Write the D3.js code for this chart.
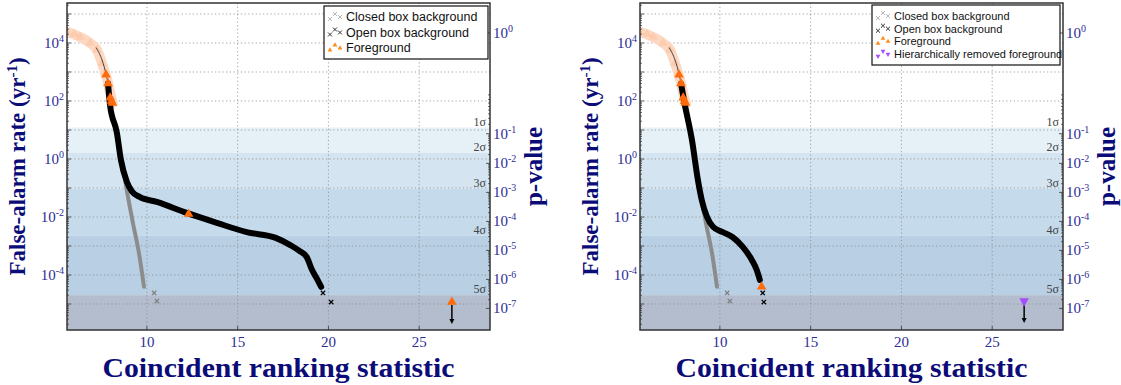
<!DOCTYPE html>
<html>
<head>
<meta charset="utf-8">
<script src="https://cdn.jsdelivr.net/npm/d3@7"></script>
<style>
  body { margin: 0; background: #fff; }
</style>
</head>
<body>
<svg id="chart" width="1121" height="385"></svg>
<script>
// ---- data (x = ranking statistic, y = FAR in 1/yr) ----
const fadedForeground = [[5.6, 24000], [6.0, 20000], [6.32, 16000], [6.87, 10000], [7.25, 5800],
  [7.53, 2000], [7.7, 930], [7.86, 420], [8.02, 140], [8.13, 85]];
const openBgThin = [[7.2, 7000], [7.45, 3500], [7.65, 1500], [7.86, 420]];

const openBgLeft = [[7.86, 400], [7.97, 72], [8.35, 7.9], [8.57, 0.93], [8.9, 0.16], [9.18, 0.076],
  [9.6, 0.049], [10.55, 0.033], [12.2, 0.0138], [13.85, 0.0063], [15.5, 0.003], [17.1, 0.0019],
  [17.9, 0.00107], [18.4, 0.00068], [18.8, 0.00042], [19.1, 0.000148], [19.4, 6.8e-5], [19.6, 3.9e-5]];
const openIsoLeft = [[19.7, 2.4e-5], [20.15, 1.17e-5]];
const foregroundLeft = [[7.75, 800], [7.86, 400], [7.98, 130], [8.05, 100], [8.1, 85], [12.3, 0.0126]];
const limitLeft = [26.8, 1.17e-5];

const openBgRight = [[7.86, 400], [8.02, 107], [8.46, 4.6], [8.79, 0.19], [9.0, 0.039], [9.29, 0.01],
  [9.62, 0.0046], [10.16, 0.003], [10.71, 0.002], [11.26, 0.00093], [11.76, 0.00033],
  [12.03, 0.000148], [12.2, 6.8e-5]];
const openIsoRight = [[12.36, 2.4e-5], [12.42, 1.17e-5]];
const foregroundRight = [[7.75, 800], [7.86, 400], [7.98, 130], [8.05, 100], [8.1, 85], [12.3, 3.9e-5]];
const removedRight = [26.76, 1.26e-5];

const closedBg = [[8.7, 0.5], [8.8, 0.19], [9.23, 0.0063], [9.6, 0.00042], [9.84, 3.9e-5]];
const closedIso = [[10.4, 2.4e-5], [10.55, 1.26e-5]];

const xTicks = [10, 15, 20, 25];
const yDecades = [-5, -4, -3, -2, -1, 0, 1, 2, 3, 4, 5];
const pDecades = [-1, -2, -3, -4, -5, -6, -7];
const sigmaP = [0.1587, 0.02275, 0.00135, 3.167e-5, 2.867e-7];
const sigmaNames = ["1σ", "2σ", "3σ", "4σ", "5σ"];
const liveTime = 0.0142;     // yr, turns FAR into p-value
const pOneFar = 22100;       // where the p = 1 tick sits on the FAR axis

const legendLeft = ["Closed box background", "Open box background", "Foreground"];
const legendRight = ["Closed box background", "Open box background", "Foreground",
  "Hierarchically removed foreground"];

// ---- styles ----
const bandColors = ["#e6f0f7", "#d4e5f1", "#c5dbec", "#b9cfe4", "#b4bdcd"];
const tickColor = "#2d2d96";
const titleColor = "#0c0c78";
const orange = "#ff6a0a";
const purple = "#a64dff";
const serif = "'Liberation Serif', 'DejaVu Serif', serif";
const sans = "'Liberation Sans', Arial, sans-serif";

const svg = d3.select("#chart");
const plotTop = 3, plotBottom = 330, plotW = 423;
const xDomain = [5.6, 28.9];
const yDomain = [Math.pow(10, -5.897), Math.pow(10, 5.379)];
const farFromP = p => p >= 1 ? pOneFar : -Math.log(1 - p) / liveTime;

const symX = d3.symbolTimes || d3.symbolX || d3.symbolCross;

function supText(sel, base, exp, size) {
  sel.text(null);
  sel.append("tspan").text(base);
  sel.append("tspan").attr("dy", -6).attr("font-size", size).text(exp);
}

function drawPanel(cfg) {
  const x = d3.scaleLinear().domain(xDomain).range([cfg.left, cfg.left + plotW]);
  const y = d3.scaleLog().domain(yDomain).range([plotBottom, plotTop]);
  const right = cfg.left + plotW;
  const g = svg.append("g");

  const clipId = "clip" + cfg.left;
  svg.append("clipPath").attr("id", clipId).append("rect")
    .attr("x", cfg.left).attr("y", plotTop).attr("width", plotW).attr("height", plotBottom - plotTop);
  const plot = g.append("g").attr("clip-path", `url(#${clipId})`);

  // sigma bands
  sigmaP.forEach((p, i) => {
    const y0 = y(farFromP(p));
    const y1 = i + 1 < sigmaP.length ? y(farFromP(sigmaP[i + 1])) : plotBottom;
    plot.append("rect").attr("x", cfg.left).attr("width", plotW)
      .attr("y", y0).attr("height", y1 - y0).attr("fill", bandColors[i]);
  });

  // grid
  plot.selectAll(".gx").data(xTicks).join("line")
    .attr("x1", d => x(d)).attr("x2", d => x(d)).attr("y1", plotTop).attr("y2", plotBottom)
    .attr("stroke", "#8a8a8a").attr("stroke-width", 0.8).attr("stroke-dasharray", "1.2,2.5");
  plot.selectAll(".gy").data(yDecades).join("line")
    .attr("x1", cfg.left).attr("x2", right)
    .attr("y1", d => y(Math.pow(10, d))).attr("y2", d => y(Math.pow(10, d)))
    .attr("stroke", "#8a8a8a").attr("stroke-width", 0.8).attr("stroke-dasharray", "1.2,2.5");

  const line = d3.line().x(d => x(d[0])).y(d => y(d[1])).curve(d3.curveMonotoneX);

  // closed box background
  plot.append("path").datum(closedBg).attr("d", line).attr("fill", "none")
    .attr("stroke", "#8c8c8c").attr("stroke-width", 4).attr("stroke-linecap", "round");
  plot.selectAll(".ci").data(closedIso).join("path")
    .attr("transform", d => `translate(${x(d[0])},${y(d[1])})`)
    .attr("d", d3.symbol().type(symX).size(14)).attr("stroke", "#808080").attr("stroke-width", 1.3)
    .attr("fill", "none");

  // faded foreground
  plot.append("path").datum(fadedForeground).attr("d", line).attr("fill", "none")
    .attr("stroke", "#fdd8c2").attr("stroke-width", 10).attr("stroke-linecap", "round");
  plot.selectAll(".ff").data(fadedForeground).join("path")
    .attr("transform", d => `translate(${x(d[0])},${y(d[1])})`)
    .attr("d", d3.symbol().type(d3.symbolTriangle).size(40)).attr("fill", "#fcc4a2").attr("opacity", 0.6);
  plot.append("path").datum(openBgThin).attr("d", line).attr("fill", "none")
    .attr("stroke", "#444").attr("stroke-width", 1);

  // open box background
  plot.append("path").datum(cfg.open).attr("d", line).attr("fill", "none")
    .attr("stroke", "#000").attr("stroke-width", 6).attr("stroke-linecap", "round");
  plot.selectAll(".oi").data(cfg.openIso).join("path")
    .attr("transform", d => `translate(${x(d[0])},${y(d[1])})`)
    .attr("d", d3.symbol().type(symX).size(14)).attr("stroke", "#000").attr("stroke-width", 1.3)
    .attr("fill", "none");

  // foreground
  plot.selectAll(".fg").data(cfg.fg).join("path")
    .attr("transform", d => `translate(${x(d[0])},${y(d[1])})`)
    .attr("d", d3.symbol().type(d3.symbolTriangle).size(40)).attr("fill", orange);

  // upper limit marker with arrow
  const lx = x(cfg.limit[0]), ly = y(cfg.limit[1]);
  plot.append("line").attr("x1", lx).attr("x2", lx).attr("y1", ly + 3).attr("y2", ly + 19)
    .attr("stroke", "#000").attr("stroke-width", 1.5);
  plot.append("path").attr("d", `M${lx - 2.5},${ly + 17}L${lx + 2.5},${ly + 17}L${lx},${ly + 22}Z`)
    .attr("fill", "#000");
  plot.append("path").attr("transform", `translate(${lx},${ly})${cfg.limitDown ? " rotate(180)" : ""}`)
    .attr("d", d3.symbol().type(d3.symbolTriangle).size(40))
    .attr("fill", cfg.limitDown ? purple : orange);

  // sigma labels
  sigmaP.forEach((p, i) => {
    g.append("text").attr("x", right - 4).attr("y", y(farFromP(p)) - 2)
      .attr("text-anchor", "end").attr("font-family", serif).attr("font-size", 12)
      .attr("fill", "#444").text(sigmaNames[i]);
  });

  // left axis ticks
  const minor = [];
  d3.range(-6, 6).forEach(n => d3.range(2, 10).forEach(k => {
    const v = k * Math.pow(10, n);
    if (v > yDomain[0] && v < yDomain[1]) minor.push(v);
  }));
  g.selectAll(".ymin").data(minor).join("line")
    .attr("x1", cfg.left).attr("x2", cfg.left + 2).attr("y1", d => y(d)).attr("y2", d => y(d))
    .attr("stroke", "#333").attr("stroke-width", 0.7);
  g.selectAll(".ymaj").data(yDecades).join("line")
    .attr("x1", cfg.left).attr("x2", cfg.left + 4)
    .attr("y1", d => y(Math.pow(10, d))).attr("y2", d => y(Math.pow(10, d)))
    .attr("stroke", "#333").attr("stroke-width", 0.8);
  g.selectAll(".ylab").data(yDecades.filter(d => d % 2 === 0)).join("text")
    .attr("x", cfg.left - 3).attr("y", d => y(Math.pow(10, d)) + 5)
    .attr("text-anchor", "end").attr("font-family", serif).attr("font-size", 15).attr("fill", tickColor)
    .each(function (d) { supText(d3.select(this), "10", String(d), 10); });

  // right axis (p-value)
  const pMinor = [];
  d3.range(1, 8).forEach(n => d3.range(2, 10).forEach(k => pMinor.push(k * Math.pow(10, -n))));
  g.selectAll(".pmin").data(pMinor).join("line")
    .attr("x1", right - 2).attr("x2", right).attr("y1", d => y(farFromP(d))).attr("y2", d => y(farFromP(d)))
    .attr("stroke", "#333").attr("stroke-width", 0.7);
  const pMajor = [0].concat(pDecades);
  g.selectAll(".pmaj").data(pMajor).join("line")
    .attr("x1", right - 4).attr("x2", right)
    .attr("y1", d => y(farFromP(Math.pow(10, d)))).attr("y2", d => y(farFromP(Math.pow(10, d))))
    .attr("stroke", "#333").attr("stroke-width", 0.8);
  g.selectAll(".plab").data(pMajor).join("text")
    .attr("x", right + 3).attr("y", d => y(farFromP(Math.pow(10, d))) + 5)
    .attr("font-family", serif).attr("font-size", 15).attr("fill", tickColor)
    .each(function (d) { supText(d3.select(this), "10", String(d), 10); });

  // x axis ticks
  g.selectAll(".xt").data(xTicks).join("line")
    .attr("x1", d => x(d)).attr("x2", d => x(d)).attr("y1", plotBottom - 4).attr("y2", plotBottom)
    .attr("stroke", "#333").attr("stroke-width", 0.8);
  g.selectAll(".xl").data(xTicks).join("text")
    .attr("x", d => x(d)).attr("y", plotBottom + 17).attr("text-anchor", "middle")
    .attr("font-family", serif).attr("font-size", 15).attr("fill", tickColor).text(d => d);

  // frame
  g.append("rect").attr("x", cfg.left).attr("y", plotTop).attr("width", plotW).attr("height", plotBottom - plotTop)
    .attr("fill", "none").attr("stroke", "#333").attr("stroke-width", 1.5);

  // axis titles
  g.append("text").attr("x", cfg.left + plotW / 2).attr("y", plotBottom + 47).attr("text-anchor", "middle")
    .attr("font-family", serif).attr("font-weight", "bold").attr("font-size", 27)
    .attr("fill", titleColor).attr("textLength", 352).attr("lengthAdjust", "spacingAndGlyphs")
    .text("Coincident ranking statistic");
  const yl = g.append("text")
    .attr("transform", `translate(${cfg.left - 42},${(plotTop + plotBottom) / 2}) rotate(-90)`)
    .attr("text-anchor", "middle").attr("font-family", serif).attr("font-weight", "bold")
    .attr("font-size", 23).attr("fill", titleColor);
  yl.append("tspan").text("False-alarm rate (yr");
  yl.append("tspan").attr("dy", -8).attr("font-size", 15).text("-1");
  yl.append("tspan").attr("dy", 8).text(")");
  g.append("text")
    .attr("transform", `translate(${right + 52},${(plotTop + plotBottom) / 2}) rotate(-90)`)
    .attr("text-anchor", "middle").attr("font-family", serif).attr("font-weight", "bold")
    .attr("font-size", 25).attr("fill", titleColor).text("p-value");

  // legend
  const lb = cfg.legendBox;
  const leg = g.append("g");
  leg.append("rect").attr("x", lb.x).attr("y", lb.y).attr("width", lb.w).attr("height", lb.h)
    .attr("fill", "#fff").attr("stroke", "#111").attr("stroke-width", 1.2);
  const offsets = [[-5, 2], [0, -3], [5, 0]];
  cfg.legend.forEach((label, i) => {
    const cy = lb.y + lb.first + i * lb.rowH;
    const cx = lb.x + 11;
    offsets.forEach(o => {
      const m = leg.append("path").attr("transform", `translate(${cx + o[0]},${cy + o[1]})${i === 3 ? " rotate(180)" : ""}`);
      if (i < 2) {
        m.attr("d", d3.symbol().type(symX).size(12)).attr("fill", "none")
          .attr("stroke", i === 0 ? "#b8b8b8" : "#333").attr("stroke-width", 1);
      } else {
        m.attr("d", d3.symbol().type(d3.symbolTriangle).size(10))
          .attr("fill", i === 2 ? "#ff8c1a" : purple);
      }
    });
    leg.append("text").attr("x", lb.x + 22).attr("y", cy + 4)
      .attr("font-family", sans).attr("font-size", lb.fs).attr("fill", "#111").text(label);
  });
}

drawPanel({
  left: 67, open: openBgLeft, openIso: openIsoLeft, fg: foregroundLeft, limit: limitLeft,
  limitDown: false, legend: legendLeft,
  legendBox: { x: 324, y: 6, w: 164, h: 53, fs: 12.5, first: 11, rowH: 15.5 }
});
drawPanel({
  left: 640, open: openBgRight, openIso: openIsoRight, fg: foregroundRight, limit: removedRight,
  limitDown: true, legend: legendRight,
  legendBox: { x: 872, y: 5, w: 188, h: 60, fs: 11, first: 11, rowH: 12.7 }
});
</script>
</body>
</html>
